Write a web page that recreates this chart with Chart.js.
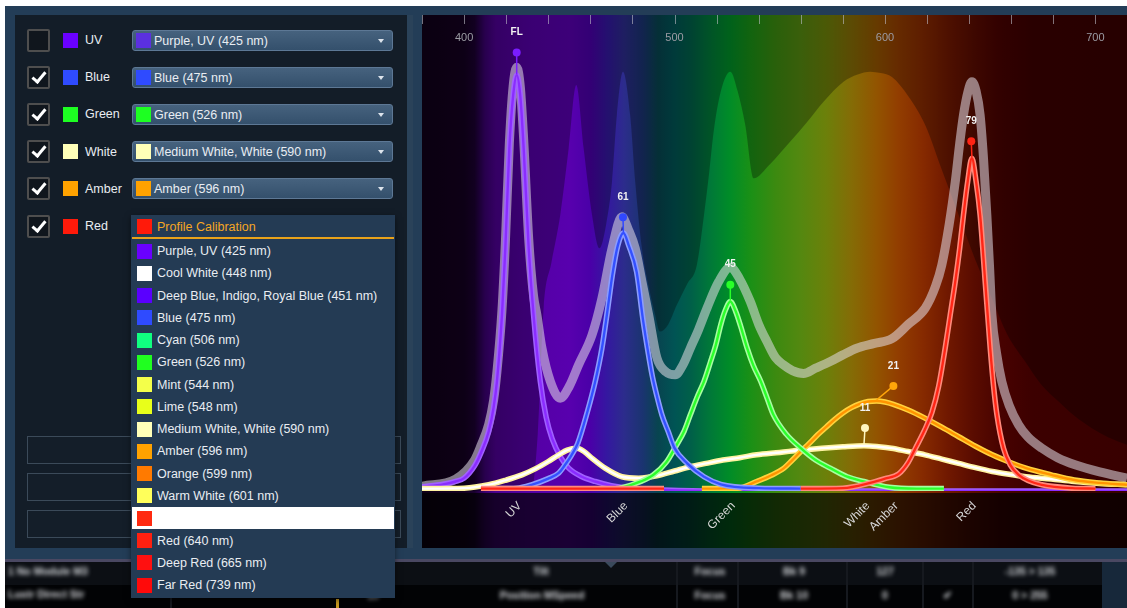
<!DOCTYPE html>
<html lang="en">
<head>
<meta charset="UTF-8">
<title>Spectrum Profile</title>
<script src="https://cdn.jsdelivr.net/npm/chart.js"></script>
<style>
  body { margin: 0; width: 1127px; height: 608px; overflow: hidden; position: relative; background: #fff;
         font-family: 'Liberation Sans', Arial, sans-serif; font-size: 12.5px; color: #e9edf2; }
  .abs { position: absolute; }
  #frame { left: 5px; top: 6px; width: 1122px; height: 554px; background: #233d57; }
  #panel { left: 15px; top: 15px; width: 392px; height: 533px; background: #131d28; border-right: 6px solid #2a4259; }
  #chartBox { left: 422px; top: 15px; width: 705px; height: 533px; }
  .chk { width: 19px; height: 19px; border: 2px solid #4e4e4e; border-radius: 2px; background: #10161d; }
  .chk.on::after { content: ''; position: absolute; left: 6px; top: 1px; width: 5px; height: 11px;
                   border-right: 3px solid #fff; border-bottom: 3px solid #fff; transform: rotate(40deg); }
  .sw { width: 15px; height: 15px; }
  .lbl { line-height: 16px; white-space: nowrap; }
  .dd { left: 132px; width: 259px; height: 19px; border: 1px solid #5d7895; border-radius: 3px;
        background: linear-gradient(#46627e, #34506c); }
  .caret { right: 8px; top: 8px; width: 0; height: 0; border-left: 3.5px solid transparent;
           border-right: 3.5px solid transparent; border-top: 4px solid #dde4ec; }
  .box { left: 27px; width: 372px; height: 26px; border: 1px solid #3b4a59; background: #141e29; }
  #list { left: 131px; top: 215px; width: 264px; height: 383px; background: #243b54;
          box-shadow: 0 2px 6px rgba(0,0,0,0.5); z-index: 5; }
  #list .hdr { color: #f5a623; }
  #list .line { left: 1px; top: 22px; width: 262px; height: 2px; background: #e9a21a; }
  .item { left: 1px; width: 262px; height: 22px; }
  .item.sel { background: #fff; }
  .trow { left: 5px; width: 1122px; height: 23px; }
  .sep { width: 2px; height: 46px; top: 562px; background: #16191f; }
  #tableText { position: absolute; left: 0; top: 0; width: 1127px; height: 608px; filter: blur(2.2px); }
  .bt { font-weight: bold; font-size: 10.5px; color: #d4d7db; white-space: nowrap; }
</style>
</head>
<body>
<div id="frame" class="abs"></div>
<div id="panel" class="abs"></div>
<div id="rows"></div>
<div class="abs box" style="top:436px"></div>
<div class="abs box" style="top:473px"></div>
<div class="abs box" style="top:510px"></div>

<div class="abs" style="left:5px;top:559px;width:1122px;height:3px;background:#4a4862"></div>
<div class="abs trow" style="top:562px;background:#0c0f14"></div>
<div class="abs trow" style="top:585px;background:#020305"></div>
<div class="abs" style="left:1102px;top:562px;width:25px;height:46px;background:#17283a"></div>
<div class="abs sep" style="left:170px"></div>
<div class="abs sep" style="left:676px"></div>
<div class="abs sep" style="left:737px"></div>
<div class="abs sep" style="left:846px"></div>
<div class="abs sep" style="left:922px"></div>
<div class="abs sep" style="left:972px"></div>
<div class="abs" style="left:605px;top:562px;width:0;height:0;border-left:6px solid transparent;border-right:6px solid transparent;border-top:6px solid #3a4a5c"></div>
<div class="abs" style="left:336px;top:599px;width:3px;height:9px;background:#c89a20"></div>
<div id="tableText"></div>

<div id="chartBox" class="abs"><canvas id="spec" width="705" height="533"></canvas></div>
<div id="list" class="abs"></div>

<script>
// ---- chart data (wavelength nm, relative intensity %) ----
const tickNm = [380, 400, 420, 440, 460, 480, 500, 520, 540, 560, 580, 600, 620, 640, 660, 680, 700];
const tickLabels = ['400', '500', '600', '700'];

const channels = ['UV', 'Blue', 'Green', 'White', 'Amber', 'Red'];
const bandNm = [425, 475.5, 526.5, 590.5, 604, 641];   // level markers / band labels
const levelVal = [100, 61, 45, 11, 21, 79];
const levelText = ['FL', '61', '45', '11', '21', '79'];

const refCurve = [[380,0],[432,0],[435,12],[437.8,38.4],[441.5,48],[445.7,58],[449.7,72],[453.3,85.3],[456.8,72],[460.8,58],
  [464.3,51],[467.5,56],[470.3,65],[472.6,79],[475.5,88.1],[478.9,79],[481.3,65],[484.5,51],[487.7,43],[490.8,37],[493,33.5],
  [497,35],[501,39],[506,43.5],[510.6,47.5],[514,58],[516.5,67],[518.6,75.5],[522,84],[526.5,88.1],[530,84],[533.6,76.9],
  [537.6,65.7],[545,68.5],[555,73.4],[563,77.5],[570.8,81.8],[580.3,86],[587,87.5],[593,88.1],[598,87.8],[603.3,87],[611,83],
  [619.1,76.9],[627,67.5],[635,58],[643,48.5],[650.8,40.5],[658,33],[666.6,27.2],[674,22.5],[682.5,18.8],[690,15.8],
  [698.3,13.2],[706,11.3],[715,9.7]];

const totalCurve = [[380,1],[396,2.5],[405,6.5],[408,9.5],[411.7,14],[414,19],[415.6,25],[418,38],[419.6,52],[421.5,73],
  [423.3,85],[425,89],[426.7,85],[428.3,74],[430.7,53],[433,41],[434.6,37],[437,30],[441,23],[445.7,19.5],[450,22],
  [454.4,26.5],[460.8,32.8],[465.5,40.5],[470.3,51],[475,57.6],[478,55],[481.3,51],[484.5,44],[487.7,37],[491.6,28],
  [496,25],[500.3,24.4],[504,26.5],[507.5,30],[511.5,34],[515.4,38.4],[521,44],[526.5,47],[531,44.5],[536,39.8],[540,35],
  [543.9,31.4],[548,28],[551.8,26.5],[556,25.3],[561.3,24.7],[567,25.8],[574,27.2],[580,28.6],[586.6,30],[595,31],
  [603.3,32],[611,35],[619.1,38.4],[624,43],[627,47.5],[630.5,56],[633.4,65],[635.5,73],[637.3,79],[639.5,84],[641.3,86],
  [643.3,84],[645.2,79],[646.8,70],[648.4,58],[649.7,47],[650.8,37],[653,29],[655.5,23],[659,18],[663.5,13.9],[668,11.3],
  [674.5,9],[682,7],[690.3,5.5],[702,4],[715,2.7]];

const uvCurve = [[380,0.9],[390,1.4],[396,2],[400,2.7],[405,5.3],[408,8],[411.7,12.5],[414,17.5],[415.6,23],[418,37],
  [419.6,51],[421.5,72],[423.3,83],[425,87.4],[426.7,83],[428.3,72],[430.7,51],[433,37],[436.2,23],[439,15.5],[441.8,11],
  [446,7],[449.7,4.8],[456,3],[462.3,2],[470,1.1],[480,0.5],[495,0.2],[520,0],[715,0]];

const blueCurve = [[415,0.5],[425,0.6],[432,1.3],[440,2.6],[445,3.8],[448,5.5],[451,7.5],[454,10],[458.5,16.5],[462.3,23],
  [465.5,30],[468,37.5],[470.5,45.5],[473,51.5],[475.7,54.2],[478.3,51.5],[482,46],[485,36],[487.5,29],[489.5,24],
  [491.6,20],[494,16],[497,12.5],[500,9],[506,5.8],[514,3],[522,1.4],[540,0.6],[560,0.5]];

const greenCurve = [[472,0.5],[474,0.6],[484,2],[490,3.4],[496,6],[501,9.7],[504.5,12.5],[507.5,16],[511,20],[514,23],
  [517,27],[519.5,30.5],[522,35],[524,37.8],[526.5,39.8],[529,37.8],[531.5,34.5],[534.5,30],[537.5,26.3],[541,23],
  [544,19.5],[547,16],[553,12],[560,9],[567,6.5],[574,4.8],[582,3],[590,2],[602,0.8],[615,0.5],[628,0.5]];

const whiteCurve = [[380,0.5],[400,0.6],[411.7,1.3],[420,2.3],[427.5,3.4],[434,4.7],[440,6.2],[445,7.6],[449,8.6],
  [453.6,9],[457,8.3],[461,6.8],[467,4.8],[475,3],[483,2.7],[491.6,3.2],[500,4.2],[507.5,5.1],[515,5.8],[523,6.5],[531,7],
  [539,7.6],[550,8.1],[560,8.6],[570,9],[580,9.3],[590,9.5],[597,9.3],[603,9],[611,8.3],[619,7.6],[627,6.7],[635,5.8],
  [643,4.9],[651,4.1],[659,3.5],[667,3],[679,2.5],[690,2],[702,1.6],[715,1.3]];

const amberCurve = [[513,0.5],[530,0.6],[539,2],[546,3.3],[552,4.8],[556,6.5],[560,8.3],[564,10],[568,11.8],[572,13.4],
  [576,15],[580,16.4],[584,17.5],[588,18.3],[592,18.8],[596,18.9],[600,18.7],[604,18.2],[611,17],[619,15.3],[627,13.4],
  [635,11.4],[643,9.4],[651,7.6],[659,6.1],[667,4.8],[679,3.4],[690,2.3],[702,1.7],[715,1.3]];

const redCurve = [[408,0.5],[495,0.5],[496,null],[560,0.5],[580,0.6],[593,1.7],[600,2.6],[606.5,3.6],[611,6],[614.5,9],
  [618.5,12.5],[622.3,16.5],[625.5,22],[628.6,30],[631,37],[633.4,44],[635.5,51],[637.3,58],[639.3,65],[641.3,69.9],
  [643.3,65],[645.2,58],[647.6,44],[650,30],[651.6,22],[653.2,16],[656.3,9],[659.5,5.5],[663.5,3.4],[668,2.2],
  [674.5,1.3],[689,0.6],[700,0.5]];

const levelCurves = [uvCurve, blueCurve, greenCurve, whiteCurve, amberCurve, redCurve];

// ---- styles ----
const levelColors = ['#7a1cff', '#3048ff', '#28ff28', '#fff6c0', '#ffa60a', '#ff2414'];
const specStops = [[380,'#100018'],[400,'#140020'],[405,'#1a0030'],[410,'#3a0070'],[415,'#4c0090'],[430,'#5400a4'],
  [450,'#5800ae'],[460,'#4a00a8'],[468,'#3418a0'],[476,'#2c2c8c'],[485,'#1a3470'],[492,'#084450'],[500,'#005454'],
  [508,'#006048'],[516,'#00763a'],[526,'#008c28'],[536,'#1a9016'],[548,'#3c8a10'],[560,'#548810'],[572,'#6c800a'],
  [584,'#846c06'],[596,'#925400'],[606,'#923e00'],[618,'#862a00'],[630,'#701800'],[642,'#5a0c00'],[655,'#480200'],
  [670,'#3c0000'],[715,'#380000']];

// ---- left panel ----
const channelOn = [false, true, true, true, true, true];
const channelColors = ['#6a00ff', '#2f4bff', '#1dff22', '#ffffb8', '#ffa200', '#ff1a0a'];
const profileNames = ['Purple, UV (425 nm)', 'Blue (475 nm)', 'Green (526 nm)', 'Medium White, White (590 nm)', 'Amber (596 nm)'];
const profileColors = ['#5b30e0', '#2f4bff', '#1dff22', '#ffffb8', '#ffa200'];
const listNames = ['Purple, UV (425 nm)', 'Cool White (448 nm)', 'Deep Blue, Indigo, Royal Blue (451 nm)', 'Blue (475 nm)',
  'Cyan (506 nm)', 'Green (526 nm)', 'Mint (544 nm)', 'Lime (548 nm)', 'Medium White, White (590 nm)', 'Amber (596 nm)',
  'Orange (599 nm)', 'Warm White (601 nm)', '', 'Red (640 nm)', 'Deep Red (665 nm)', 'Far Red (739 nm)'];
const listColors = ['#6a00ff', '#ffffff', '#5a00ff', '#2f4bff', '#10ff80', '#20ff20', '#f4ff4a', '#e8ff1a', '#ffffb8',
  '#ffa200', '#ff7a00', '#ffff5a', '#ff2a10', '#ff2010', '#ff1010', '#ff0a0a'];

let html = '';
channels.forEach((name, i) => {
  const cy = 40 + i * 37.2;
  html += `<div class="abs chk${channelOn[i] ? ' on' : ''}" style="left:27px;top:${cy - 11.5}px"></div>`;
  html += `<div class="abs sw" style="left:63px;top:${cy - 7.5}px;background:${channelColors[i]}"></div>`;
  html += `<div class="abs lbl" style="left:85px;top:${cy - 8}px">${name}</div>`;
  if (i < profileNames.length) {
    html += `<div class="abs dd" style="top:${cy - 10.5}px">
      <div class="abs sw" style="left:3px;top:2px;background:${profileColors[i]}"></div>
      <div class="abs lbl" style="left:21px;top:2px">${profileNames[i]}</div>
      <div class="abs caret"></div></div>`;
  }
});
document.getElementById('rows').innerHTML = html;

let lh = `<div class="abs sw" style="left:6px;top:4px;background:#ff1a0a"></div>
  <div class="abs lbl hdr" style="left:26px;top:4px">Profile Calibration</div><div class="abs line"></div>`;
listNames.forEach((name, i) => {
  const top = 25 + i * 22.27;
  lh += `<div class="abs item${name === '' ? ' sel' : ''}" style="top:${top}px">
    <div class="abs sw" style="left:5px;top:3.5px;background:${listColors[i]}"></div>
    <div class="abs lbl" style="left:25px;top:3px">${name}</div></div>`;
});
document.getElementById('list').innerHTML = lh;

const tableText = [
  [8, 572, '1 No Module M3', 'left'], [8, 595, 'Lustr Direct Str', 'left'], [541, 572, 'Tilt', 'center'],
  [542, 596, 'Position MSpeed', 'center'], [373, 596, '10', 'center'], [710, 572, 'Focus', 'center'],
  [710, 596, 'Focus', 'center'], [794, 572, 'Bk 9', 'center'], [794, 596, 'Bk 10', 'center'],
  [885, 572, '127', 'center'], [885, 596, '0', 'center'], [947, 596, '\u2714', 'center'],
  [1030, 572, '-135 > 135', 'center'], [1030, 596, '0 > 255', 'center']];
document.getElementById('tableText').innerHTML = tableText.map(([x, y, t, al]) =>
  `<div class="abs bt" style="left:${al === 'left' ? x : x - 60}px;width:${al === 'left' ? 150 : 120}px;text-align:${al};top:${y - 7}px">${t}</div>`).join('');

// ---- chart ----
const toXY = pts => pts.map(p => ({ x: p[0], y: p[1] }));
const line = { pointRadius: 0, pointHoverRadius: 0, fill: false, cubicInterpolationMode: 'monotone', spanGaps: false };
const datasets = [];

datasets.push({ data: bandNm.map((nm, i) => ({ x: nm, y: levelVal[i] })), yAxisID: 'y2', showLine: false,
  pointRadius: 4, pointHoverRadius: 4, pointBorderWidth: 0, pointBackgroundColor: levelColors, order: 0 });

function addCurve(pts, glow, core, order) {
  const data = toXY(pts);
  datasets.push({ ...line, data, borderColor: glow, borderWidth: 5.5, order: order + 0.5 });
  datasets.push({ ...line, data, borderColor: core, borderWidth: 2.4, order });
}
addCurve(redCurve, '#ff8a7c', '#ff2616', 2);
addCurve(blueCurve, '#8c9cff', '#3350ff', 3);
addCurve(greenCurve, '#a6ffa0', '#2cff2c', 4);
addCurve(amberCurve, '#ffd23c', '#ff9400', 5);
addCurve(whiteCurve, '#fff3a0', '#ffffff', 6);
addCurve(uvCurve, '#a060ff', '#8a2cff', 7);

datasets.push({ ...line, data: toXY(totalCurve), borderColor: 'rgba(228,222,232,0.55)', borderWidth: 9, order: 20 });
datasets.push({ ...line, data: toXY(refCurve), borderWidth: 0, fill: 'end', backgroundColor: 'rgba(0,0,0,0.3)', order: 30 });

const spectrumBg = {
  id: 'spectrumBg',
  beforeDraw(chart) {
    const { ctx, chartArea: a, scales: { x } } = chart;
    const g = ctx.createLinearGradient(a.left, 0, a.right, 0);
    specStops.forEach(([nm, c]) => {
      const t = (x.getPixelForValue(nm) - a.left) / (a.right - a.left);
      g.addColorStop(Math.min(1, Math.max(0, t)), c);
    });
    ctx.save();
    ctx.fillStyle = g;
    ctx.fillRect(0, 0, chart.width, chart.height);
    ctx.fillStyle = 'rgba(0,0,0,0.7)';
    ctx.fillRect(0, a.bottom + 2, chart.width, chart.height - a.bottom - 2);
    ctx.restore();
  },
  beforeDatasetDraw(chart, args) {
    if (args.index !== 0) return;
    const { ctx, scales: { x, y } } = chart;
    const meta = chart.getDatasetMeta(0);
    ctx.save();
    levelCurves.forEach((pts, i) => {
      const peak = pts.reduce((m, p) => (p[1] !== null && p[1] > m[1] ? p : m));
      const pt = meta.data[i];
      ctx.strokeStyle = levelColors[i];
      ctx.lineWidth = 1.5;
      ctx.beginPath();
      ctx.moveTo(pt.x, pt.y);
      ctx.lineTo(x.getPixelForValue(peak[0]), y.getPixelForValue(peak[1]) - 1);
      ctx.stroke();
    });
    ctx.restore();
  },
  afterDatasetsDraw(chart) {
    const { ctx, chartArea: a, scales: { x } } = chart;
    const meta = chart.getDatasetMeta(0);
    ctx.save();
    ctx.strokeStyle = 'rgba(190,190,200,0.6)';
    ctx.lineWidth = 1;
    tickNm.forEach(nm => {
      const px = Math.round(x.getPixelForValue(nm)) + 0.5;
      ctx.beginPath(); ctx.moveTo(px, a.top); ctx.lineTo(px, a.top + 9); ctx.stroke();
    });
    ctx.fillStyle = '#9c9ca4';
    ctx.font = '11px "Liberation Sans", Arial, sans-serif';
    ctx.textAlign = 'center';
    ctx.textBaseline = 'middle';
    tickLabels.forEach(t => ctx.fillText(t, x.getPixelForValue(Number(t)), a.top + 23));
    ctx.fillStyle = '#f2f2f2';
    ctx.font = 'bold 10px "Liberation Sans", Arial, sans-serif';
    meta.data.forEach((pt, i) => ctx.fillText(levelText[i], pt.x, pt.y - 20));
    ctx.fillStyle = '#d6d6d6';
    ctx.font = '12px "Liberation Sans", Arial, sans-serif';
    ctx.textAlign = 'right';
    channels.forEach((name, i) => {
      ctx.save();
      ctx.translate(x.getPixelForValue(bandNm[i]) + 3, a.bottom + 13);
      ctx.rotate(-Math.PI / 4);
      ctx.fillText(name, 0, 0);
      ctx.restore();
    });
    ctx.restore();
  }
};

new Chart(document.getElementById('spec'), {
  type: 'line',
  data: { datasets },
  options: {
    responsive: false,
    animation: false,
    devicePixelRatio: 1,
    layout: { autoPadding: false, padding: { left: 0, right: 0, top: 0, bottom: 57 } },
    plugins: { legend: { display: false }, tooltip: { enabled: false } },
    events: [],
    scales: {
      x: { type: 'linear', min: 380, max: 715, display: false },
      y: { min: 0, max: 100, display: false },
      y2: { min: -3.9, max: 108.9, display: false }
    }
  },
  plugins: [spectrumBg]
});
</script>
</body>
</html>
